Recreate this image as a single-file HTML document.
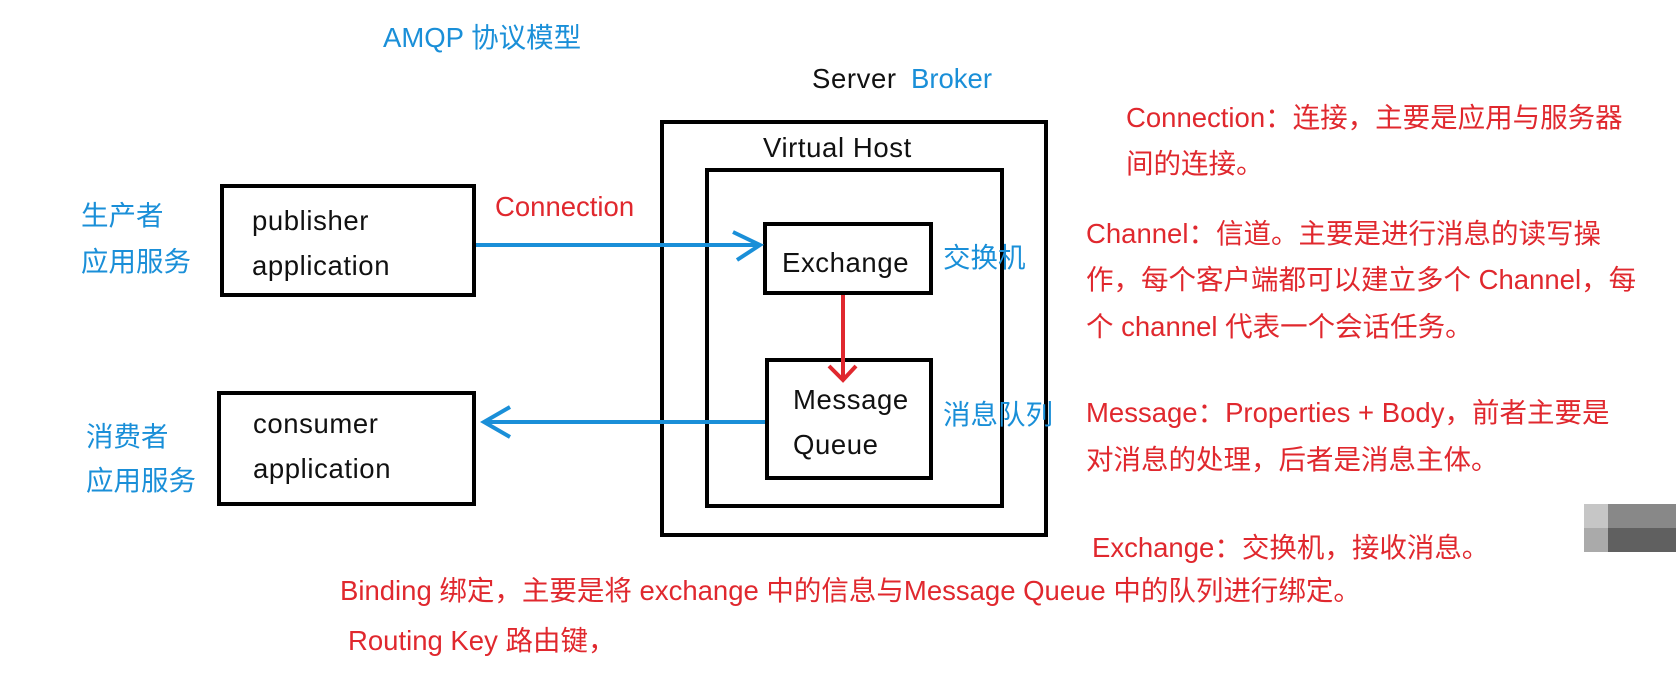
<!DOCTYPE html>
<html><head><meta charset="utf-8"><style>
body{margin:0;width:1676px;height:697px;background:#fff;position:relative;overflow:hidden;font-family:"Liberation Sans","Noto Sans CJK SC",sans-serif;}
.t{position:absolute;font-size:27.5px;line-height:30px;white-space:nowrap;}
.r{color:#e0282e}.b{color:#1a8fd8}.k{color:#111;letter-spacing:0.6px}
.box{position:absolute;border:4px solid #000;box-sizing:border-box;}
</style></head><body>
<div class="box" style="left:660px;top:120px;width:388px;height:417px"></div>
<div class="box" style="left:705px;top:168px;width:299px;height:340px"></div>
<div class="box" style="left:763px;top:222px;width:170px;height:73px"></div>
<div class="box" style="left:765px;top:358px;width:168px;height:122px"></div>
<div class="box" style="left:220px;top:184px;width:256px;height:113px"></div>
<div class="box" style="left:217px;top:391px;width:259px;height:115px"></div>
<div style="position:absolute;left:1584px;top:504px;width:24px;height:24px;background:#c6c6c6"></div>
<div style="position:absolute;left:1608px;top:504px;width:68px;height:24px;background:#888"></div>
<div style="position:absolute;left:1584px;top:528px;width:24px;height:24px;background:#aaa"></div>
<div style="position:absolute;left:1608px;top:528px;width:68px;height:24px;background:#606060"></div>
<svg style="position:absolute;left:0;top:0" width="1676" height="697">
<line x1="476" y1="245" x2="760" y2="245" stroke="#1a8fd8" stroke-width="4"/>
<polyline points="733,232 760,245 737,260" fill="none" stroke="#1a8fd8" stroke-width="4"/>
<line x1="765" y1="422" x2="484" y2="422" stroke="#1a8fd8" stroke-width="4"/>
<polyline points="510,407 484,422 510,437" fill="none" stroke="#1a8fd8" stroke-width="4"/>
<line x1="843" y1="295" x2="843" y2="380" stroke="#e0282e" stroke-width="4"/>
<polyline points="829,366 843,380 856,366" fill="none" stroke="#e0282e" stroke-width="4"/>
</svg>
<div class="t b" style="left:383px;top:23px">AMQP 协议模型</div>
<div class="t k" style="left:812px;top:64px">Server</div>
<div class="t b" style="left:911px;top:64px">Broker</div>
<div class="t k" style="left:763px;top:133px">Virtual Host</div>
<div class="t k" style="left:782px;top:248px">Exchange</div>
<div class="t k" style="left:793px;top:385px">Message</div>
<div class="t k" style="left:793px;top:430px">Queue</div>
<div class="t b" style="left:943px;top:243px">交换机</div>
<div class="t b" style="left:943px;top:400px">消息队列</div>
<div class="t b" style="left:81px;top:201px">生产者</div>
<div class="t b" style="left:81px;top:247px">应用服务</div>
<div class="t b" style="left:86px;top:422px">消费者</div>
<div class="t b" style="left:86px;top:466px">应用服务</div>
<div class="t k" style="left:252px;top:206px">publisher</div>
<div class="t k" style="left:252px;top:251px">application</div>
<div class="t k" style="left:253px;top:409px">consumer</div>
<div class="t k" style="left:253px;top:454px">application</div>
<div class="t r" style="left:495px;top:192px">Connection</div>
<div class="t r" style="left:1126px;top:103px">Connection：连接，主要是应用与服务器</div>
<div class="t r" style="left:1126px;top:149px">间的连接。</div>
<div class="t r" style="left:1086px;top:219px">Channel：信道。主要是进行消息的读写操</div>
<div class="t r" style="left:1086px;top:265px">作，每个客户端都可以建立多个 Channel，每</div>
<div class="t r" style="left:1086px;top:312px">个 channel 代表一个会话任务。</div>
<div class="t r" style="left:1086px;top:398px">Message：Properties + Body，前者主要是</div>
<div class="t r" style="left:1086px;top:445px">对消息的处理，后者是消息主体。</div>
<div class="t r" style="left:1092px;top:533px">Exchange：交换机，接收消息。</div>
<div class="t r" style="left:340px;top:576px">Binding 绑定，主要是将 exchange 中的信息与Message Queue 中的队列进行绑定。</div>
<div class="t r" style="left:348px;top:626px">Routing Key 路由键，</div>
</body></html>
